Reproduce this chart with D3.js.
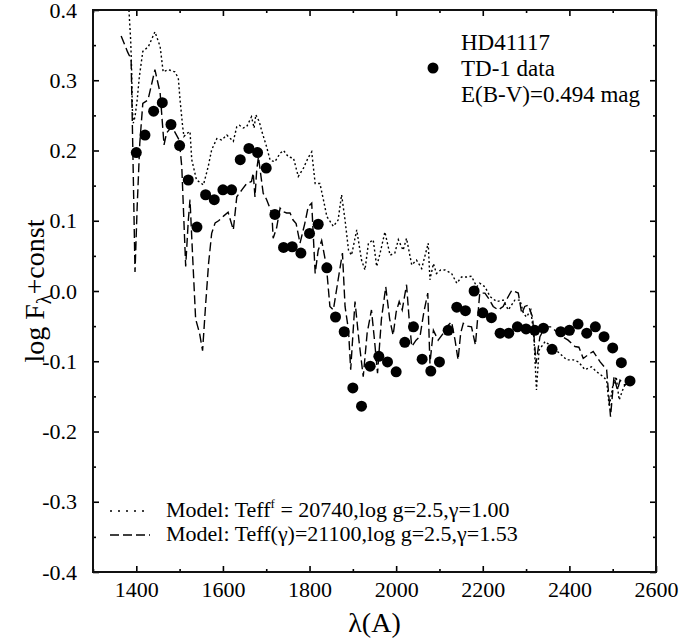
<!DOCTYPE html>
<html>
<head>
<meta charset="utf-8">
<script src="https://cdn.jsdelivr.net/npm/d3@7"></script>
<style>
  body { margin: 0; background: #fff; }
  svg { font-family: "Liberation Serif", "DejaVu Serif", serif; }
</style>
</head>
<body>
<svg id="chart" width="680" height="641"></svg>
<script>
"use strict";

// TD-1 photometry (wavelength in A, log flux)
let tdWave = [1400, 1420, 1440, 1460, 1480, 1500, 1520, 1540, 1560, 1580,
  1600, 1620, 1640, 1660, 1680, 1700, 1720, 1740, 1760, 1780,
  1800, 1820, 1840, 1860, 1880, 1900, 1920, 1940, 1960, 1980,
  2000, 2020, 2040, 2060, 2080, 2100, 2120, 2140, 2160, 2180,
  2200, 2220, 2240, 2260, 2280, 2300, 2320, 2340, 2360, 2380,
  2400, 2420, 2440, 2460, 2480, 2500, 2520, 2540]
let tdFlux = [0.197, 0.222, 0.256, 0.268, 0.237, 0.207, 0.158, 0.091, 0.137, 0.130,
  0.144, 0.144, 0.187, 0.203, 0.197, 0.175, 0.109, 0.062, 0.063, 0.054,
  0.082, 0.095, 0.033, -0.037, -0.058, -0.138, -0.164, -0.107, -0.093, -0.101,
  -0.115, -0.073, -0.051, -0.097, -0.114, -0.101, -0.056, -0.023, -0.028, 0.000,
  -0.031, -0.038, -0.060, -0.060, -0.051, -0.054, -0.056, -0.053, -0.083, -0.058,
  -0.056, -0.047, -0.060, -0.051, -0.065, -0.081, -0.102, -0.128]

// model 1: Teff^f = 20740, gamma = 1.00 (dotted)
let m1Wave = [1383, 1387, 1389, 1391, 1393, 1397, 1402, 1407, 1415, 1428,
  1443, 1455, 1462, 1474, 1489, 1497, 1501, 1507, 1510, 1516,
  1524, 1528, 1539, 1555, 1566, 1574, 1586, 1597, 1609, 1624,
  1632, 1638, 1647, 1655, 1666, 1672, 1676, 1684, 1689, 1701,
  1709, 1720, 1732, 1740, 1751, 1763, 1774, 1786, 1797, 1805,
  1813, 1824, 1832, 1840, 1855, 1866, 1874, 1882, 1890, 1897,
  1909, 1920, 1928, 1936, 1947, 1955, 1963, 1974, 1986, 1997,
  2005, 2016, 2024, 2036, 2047, 2059, 2074, 2078, 2086, 2093,
  2103, 2113, 2128, 2140, 2151, 2163, 2174, 2186, 2193, 2205,
  2217, 2232, 2247, 2259, 2274, 2286, 2294, 2301, 2311, 2318,
  2324, 2330, 2344, 2359, 2378, 2394, 2409, 2421, 2436, 2451,
  2463, 2478, 2486, 2492, 2500, 2508, 2515, 2523, 2530]
let m1Flux = [0.400, 0.357, 0.319, 0.258, 0.239, 0.248, 0.272, 0.305, 0.341, 0.348,
  0.369, 0.348, 0.312, 0.315, 0.312, 0.303, 0.272, 0.234, 0.220, 0.224,
  0.227, 0.187, 0.158, 0.151, 0.177, 0.201, 0.217, 0.215, 0.222, 0.213,
  0.234, 0.236, 0.232, 0.234, 0.248, 0.232, 0.251, 0.241, 0.229, 0.205,
  0.186, 0.184, 0.196, 0.200, 0.191, 0.189, 0.163, 0.175, 0.190, 0.198,
  0.153, 0.153, 0.130, 0.106, 0.092, 0.101, 0.137, 0.101, 0.058, 0.051,
  0.087, 0.044, 0.030, 0.068, 0.073, 0.035, 0.054, 0.084, 0.051, 0.054,
  0.073, 0.058, 0.075, 0.037, 0.044, 0.032, 0.068, 0.016, 0.039, 0.025,
  0.030, 0.030, 0.025, 0.011, 0.020, 0.020, 0.021, 0.006, 0.011, 0.006,
  -0.008, -0.015, -0.013, -0.027, -0.013, -0.013, -0.032, -0.037, -0.027, -0.065,
  -0.141, -0.084, -0.072, -0.079, -0.089, -0.098, -0.098, -0.101, -0.112, -0.108,
  -0.115, -0.122, -0.127, -0.165, -0.136, -0.122, -0.155, -0.141, -0.131]

// model 2: Teff(gamma) = 21100, gamma = 1.53 (dashed)
let m2Wave = [1365, 1380, 1388, 1392, 1397, 1402, 1408, 1415, 1427, 1443,
  1455, 1464, 1470, 1482, 1499, 1505, 1514, 1520, 1524, 1530,
  1537, 1546, 1553, 1560, 1567, 1574, 1582, 1590, 1602, 1612,
  1624, 1632, 1645, 1655, 1666, 1670, 1674, 1678, 1682, 1693,
  1701, 1713, 1716, 1724, 1732, 1739, 1747, 1755, 1762, 1769,
  1778, 1789, 1797, 1805, 1813, 1820, 1828, 1839, 1847, 1855,
  1866, 1876, 1882, 1890, 1895, 1905, 1914, 1924, 1933, 1943,
  1950, 1957, 1966, 1976, 1985, 1993, 2000, 2007, 2014, 2024,
  2030, 2036, 2046, 2055, 2064, 2073, 2078, 2086, 2097, 2109,
  2118, 2128, 2136, 2143, 2149, 2155, 2165, 2174, 2183, 2193,
  2205, 2215, 2224, 2236, 2247, 2257, 2267, 2282, 2290, 2297,
  2305, 2315, 2323, 2332, 2344, 2359, 2378, 2397, 2413, 2422,
  2432, 2445, 2455, 2471, 2486, 2495, 2503, 2511, 2517, 2528, 2536]
let m2Flux = [0.363, 0.340, 0.330, 0.200, 0.027, 0.120, 0.210, 0.267, 0.272, 0.315,
  0.282, 0.208, 0.225, 0.234, 0.215, 0.177, 0.035, 0.100, 0.130, 0.050,
  -0.040, -0.060, -0.085, -0.020, 0.040, 0.082, 0.097, 0.100, 0.107, 0.112,
  0.087, 0.134, 0.145, 0.153, 0.156, 0.168, 0.134, 0.172, 0.191, 0.139,
  0.130, 0.111, 0.075, 0.090, 0.118, 0.113, 0.111, 0.111, 0.101, 0.096,
  0.068, 0.096, 0.120, 0.125, 0.025, 0.058, 0.072, 0.035, -0.022, -0.027,
  0.016, 0.054, -0.022, -0.056, -0.112, -0.015, -0.070, -0.122, -0.060, -0.027,
  -0.070, -0.117, -0.040, 0.006, -0.040, -0.063, -0.030, -0.015, -0.027, 0.009,
  -0.040, -0.079, -0.070, -0.065, -0.030, -0.003, -0.103, -0.056, -0.070, -0.060,
  -0.050, -0.044, -0.070, -0.098, -0.060, -0.046, -0.050, -0.051, -0.077, -0.003,
  -0.003, -0.012, -0.022, -0.027, -0.022, -0.010, 0.001, -0.003, -0.032, -0.022,
  -0.020, -0.037, -0.103, -0.065, -0.051, -0.051, -0.063, -0.070, -0.079, -0.080,
  -0.096, -0.090, -0.086, -0.101, -0.112, -0.179, -0.122, -0.141, -0.127, -0.134, -0.131]

// axis ticks
let xMajor = [1400, 1600, 1800, 2000, 2200, 2400, 2600]
let xMinor = [1300, 1500, 1700, 1900, 2100, 2300, 2500]
let yMajor = [-0.4, -0.3, -0.2, -0.1, 0.0, 0.1, 0.2, 0.3, 0.4]
let yTickLabels = ["-0.4", "-0.3", "-0.2", "-0.1", "0.0", "0.1", "0.2", "0.3", "0.4"]
let yMinor = [-0.35, -0.25, -0.15, -0.05, 0.05, 0.15, 0.25, 0.35]

let plot = {left: 93, right: 656, top: 10, bottom: 572}

let svg = d3.select("#chart")

let x = d3.scaleLinear().domain([1300, 2600]).range([plot.left, plot.right])
let y = d3.scaleLinear().domain([-0.4, 0.4]).range([plot.bottom, plot.top])

svg.append("defs").append("clipPath").attr("id", "plotclip")
  .append("rect")
    .attr("x", plot.left).attr("y", plot.top)
    .attr("width", plot.right - plot.left).attr("height", plot.bottom - plot.top)

// model curves
let line = d3.line().x(d => x(d[0])).y(d => y(d[1]))
let lines = svg.append("g").attr("clip-path", "url(#plotclip)")

lines.append("path")
    .datum(d3.zip(m1Wave, m1Flux))
    .attr("d", line)
    .attr("fill", "none").attr("stroke", "#000").attr("stroke-width", 1.4)
    .attr("stroke-dasharray", "2,2.5")
lines.append("path")
    .datum(d3.zip(m2Wave, m2Flux))
    .attr("d", line)
    .attr("fill", "none").attr("stroke", "#000").attr("stroke-width", 1.4)
    .attr("stroke-dasharray", "9,4")

// TD-1 points
svg.append("g").selectAll("circle")
  .data(d3.zip(tdWave, tdFlux))
  .join("circle")
    .attr("cx", d => x(d[0]))
    .attr("cy", d => y(d[1]))
    .attr("r", 5.5)
    .attr("fill", "#000")

// axes with inward ticks on all four sides
function styleAxis(g){
  g.select(".domain").remove()
  g.selectAll(".tick line").attr("stroke", "#000").attr("stroke-width", 1.6)
  g.selectAll("text").attr("fill", "#000").style("font-size", "22px")
    .style("font-family", "'Liberation Serif', serif")
}

svg.append("g")
    .attr("transform", "translate(0," + plot.bottom + ")")
    .call(d3.axisBottom(x).tickValues(xMajor).tickSize(-6).tickPadding(9).tickFormat(d3.format("d")))
    .call(styleAxis)
svg.append("g")
    .attr("transform", "translate(0," + plot.bottom + ")")
    .call(d3.axisBottom(x).tickValues(xMinor).tickSize(-3).tickFormat(""))
    .call(styleAxis)
svg.append("g")
    .attr("transform", "translate(0," + plot.top + ")")
    .call(d3.axisTop(x).tickValues(xMajor).tickSize(-6).tickFormat(""))
    .call(styleAxis)
svg.append("g")
    .attr("transform", "translate(0," + plot.top + ")")
    .call(d3.axisTop(x).tickValues(xMinor).tickSize(-3).tickFormat(""))
    .call(styleAxis)

svg.append("g")
    .attr("transform", "translate(" + plot.left + ",0)")
    .call(d3.axisLeft(y).tickValues(yMajor).tickSize(-6).tickPadding(16)
      .tickFormat((d, i) => yTickLabels[i]))
    .call(styleAxis)
svg.append("g")
    .attr("transform", "translate(" + plot.left + ",0)")
    .call(d3.axisLeft(y).tickValues(yMinor).tickSize(-3).tickFormat(""))
    .call(styleAxis)
svg.append("g")
    .attr("transform", "translate(" + plot.right + ",0)")
    .call(d3.axisRight(y).tickValues(yMajor).tickSize(-6).tickFormat(""))
    .call(styleAxis)
svg.append("g")
    .attr("transform", "translate(" + plot.right + ",0)")
    .call(d3.axisRight(y).tickValues(yMinor).tickSize(-3).tickFormat(""))
    .call(styleAxis)

// upper right legend
let legTop = svg.append("g").style("font-size", "23px")
legTop.append("text").attr("x", 461).attr("y", 50).text("HD41117")
legTop.append("circle").attr("cx", 433).attr("cy", 68).attr("r", 5.5).attr("fill", "#000")
legTop.append("text").attr("x", 461).attr("y", 76).text("TD-1 data")
legTop.append("text").attr("x", 461).attr("y", 102).text("E(B-V)=0.494 mag")

// lower legend
let legBot = svg.append("g").style("font-size", "22px")
legBot.append("line").attr("x1", 110).attr("x2", 150).attr("y1", 511).attr("y2", 511)
    .attr("stroke", "#000").attr("stroke-width", 1.4).attr("stroke-dasharray", "2,6")
let t1 = legBot.append("text").attr("x", 166).attr("y", 517)
t1.append("tspan").text("Model: Teff")
t1.append("tspan").attr("dy", -9).style("font-size", "13px").text("f")
t1.append("tspan").attr("dy", 9).text(" = 20740,log g=2.5,γ=1.00")

legBot.append("line").attr("x1", 110).attr("x2", 150).attr("y1", 535).attr("y2", 535)
    .attr("stroke", "#000").attr("stroke-width", 1.4).attr("stroke-dasharray", "9,4")
legBot.append("text").attr("x", 166).attr("y", 541)
    .text("Model: Teff(γ)=21100,log g=2.5,γ=1.53")

// axis titles
let yTitle = svg.append("text")
    .attr("transform", "translate(44," + ((plot.top + plot.bottom) / 2) + ") rotate(-90)")
    .attr("text-anchor", "middle")
    .style("font-size", "28px")
yTitle.append("tspan").text("log F")
yTitle.append("tspan").attr("dy", 7).style("font-size", "20px").text("λ")
yTitle.append("tspan").attr("dy", -7).text("+const")

svg.append("text")
    .attr("x", (plot.left + plot.right) / 2)
    .attr("y", 632)
    .attr("text-anchor", "middle")
    .style("font-size", "28px")
    .text("λ(A)")

// frame, drawn last so it sits on top
svg.append("rect")
    .attr("x", plot.left).attr("y", plot.top)
    .attr("width", plot.right - plot.left).attr("height", plot.bottom - plot.top)
    .attr("fill", "none").attr("stroke", "#111").attr("stroke-width", 2)
</script>
</body>
</html>
